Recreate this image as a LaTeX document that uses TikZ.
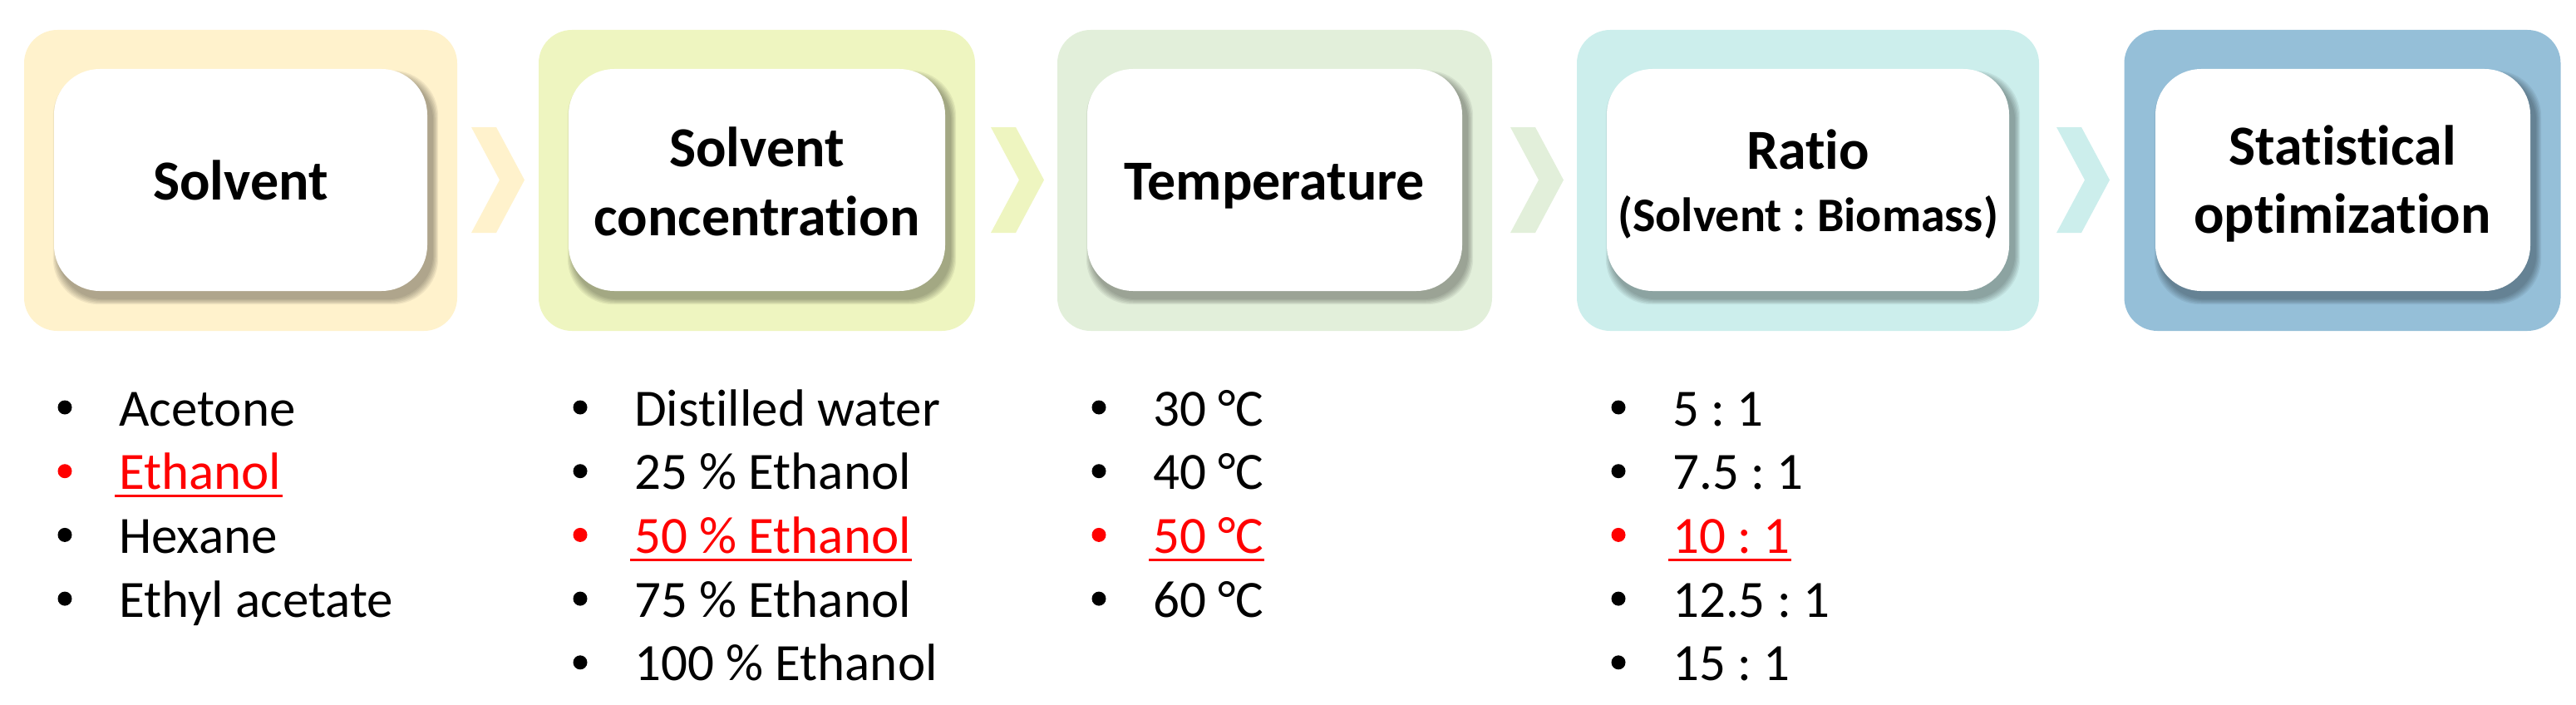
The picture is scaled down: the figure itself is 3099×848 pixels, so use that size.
\documentclass[tikz,border=0pt]{standalone}
\usepackage{fontspec}
\setmainfont{Carlito}[Ligatures=NoCommon]
\frenchspacing
\definecolor{cA}{HTML}{FFF2CC}
\definecolor{cB}{HTML}{EEF5C0}
\definecolor{cC}{HTML}{E2EFDA}
\definecolor{cD}{HTML}{CCEEEC}
\definecolor{cE}{HTML}{95BFD8}
\definecolor{hl}{HTML}{FF0000}
\begin{document}
\begin{tikzpicture}[x=1pt,y=-1pt,
  outerbox/.style={rounded corners=40pt, inner sep=0pt, minimum height=362pt},
  whiteb/.style={fill=white, rounded corners=55pt, inner sep=0pt, minimum height=267pt},
  title/.style={font=\fontsize{68}{83}\selectfont\bfseries, inner sep=0pt, anchor=base},
  sub/.style={font=\fontsize{58}{70}\selectfont\bfseries, inner sep=0pt, anchor=base},
  item/.style={font=\fontsize{63}{77}\selectfont, inner sep=0pt, anchor=base west},
  pick/.style={item, text=hl},
  uline/.style={hl, line width=3.5pt}
]
\frenchspacing
\useasboundingbox (0,0) rectangle (3099,848);
% outer panels
\node[outerbox, fill=cA, minimum width=521pt] (o1) at (289.5,217) {};
\node[outerbox, fill=cB, minimum width=525pt] (o2) at (910.5,217) {};
\node[outerbox, fill=cC, minimum width=523pt] (o3) at (1533.5,217) {};
\node[outerbox, fill=cD, minimum width=556pt] (o4) at (2175,217) {};
\node[outerbox, fill=cE, minimum width=525pt] (o5) at (2818,217) {};
% chevrons
\foreach \x/\c in {567/cA, 1192/cB, 1817/cC, 2474/cD}{
  \fill[\c] (\x,153) -- (\x+30,153) -- (\x+64,216.5) -- (\x+30,280) -- (\x,280) -- (\x+34,216.5) -- cycle;
}
% shadows of white boxes
\foreach \L/\R in {65/514, 684/1137, 1308/1759, 1933/2417, 2593/3044}{
  \foreach \k in {1,...,6}{
    \fill[black, opacity=0.06, rounded corners=55pt] (\L+6-\k*1.2, 92-\k*1.2) rectangle (\R+6+\k*1.2, 359+\k*1.2);
  }
}
% white boxes
\node[whiteb, minimum width=449pt] (w1) at (289.5,216.5) {};
\node[whiteb, minimum width=453pt] (w2) at (910.5,216.5) {};
\node[whiteb, minimum width=451pt] (w3) at (1533.5,216.5) {};
\node[whiteb, minimum width=484pt] (w4) at (2175,216.5) {};
\node[whiteb, minimum width=451pt] (w5) at (2818.5,216.5) {};
% titles
\node[title] (t1) at (289.5,240) {Solvent};
\node[title] (t2a) at (910.5,200) {Solvent};
\node[title] (t2b) at (910.5,283) {concentration};
\node[title] (t3) at (1533.5,240) {Temperature};
\node[title] (t4a) at (2175,203) {Ratio};
\node[sub] (t4b) at (2175,278) {(Solvent : Biomass)};
\node[title] (t5a) at (2818,198) {Statistical};
\node[title] (t5b) at (2818,280) {optimization};
% lists
\foreach \bx/\tx/\n/\items/\red in {78/143/1/{Acetone,Ethanol,Hexane,Ethyl acetate}/2,
  698/763/2/{Distilled water,25 \% Ethanol,50 \% Ethanol,75 \% Ethanol,100 \% Ethanol}/3,
  1322/1387/3/{30 °C,40 °C,50 °C,60 °C}/3,
  1947/2012/4/{5 : 1,7.5 : 1,10 : 1,12.5 : 1,15 : 1}/3}{
  \foreach \it [count=\i] in \items {
    \pgfmathsetmacro\yb{512+(\i-1)*76.7}
    \ifnum\i=\red
      \fill[hl] (\bx,\yb-22) circle (8.5pt);
      \node[pick] (l\n-\i) at (\tx,\yb) {\it};
      \draw[uline] ([xshift=-5pt,yshift=-8pt]l\n-\i.base west) -- ([xshift=1pt,yshift=-8pt]l\n-\i.base east);
    \else
      \fill[black] (\bx,\yb-22) circle (8.5pt);
      \node[item] (l\n-\i) at (\tx,\yb) {\it};
    \fi
  }
}
\end{tikzpicture}
\end{document}
